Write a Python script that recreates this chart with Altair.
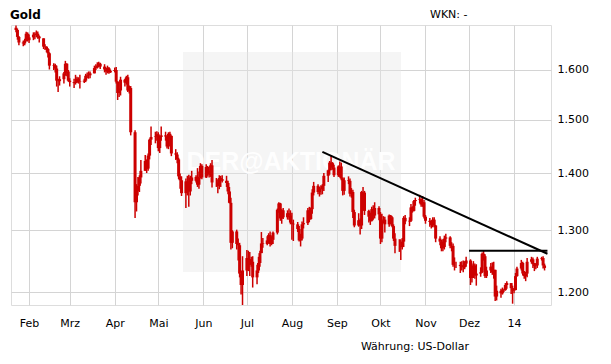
import altair as alt
import pandas as pd

# ---- daily OHLC values (USD per ounce) ----
first_open = 1690

jan13_close = [1685, 1670, 1658, 1656, 1662, 1677, 1663]
jan13_high = [1695, 1688, 1672, 1662, 1666, 1681, 1680]
jan13_low = [1680, 1664, 1652, 1650, 1652, 1660, 1660]

feb_close = [1669, 1675, 1674, 1677, 1671, 1667, 1649, 1649, 1644, 1635, 1609, 1610, 1603, 1578, 1577, 1581, 1593, 1613, 1597, 1578]
feb_high = [1675, 1680, 1680, 1684, 1682, 1673, 1667, 1654, 1650, 1646, 1637, 1614, 1613, 1609, 1582, 1587, 1596, 1619, 1614, 1600]
feb_low = [1657, 1663, 1665, 1669, 1666, 1658, 1644, 1642, 1637, 1626, 1601, 1600, 1595, 1566, 1555, 1568, 1572, 1588, 1587, 1576]

mar_close = [1575, 1573, 1575, 1582, 1577, 1576, 1578, 1588, 1589, 1589, 1593, 1604, 1606, 1609, 1613, 1607, 1601, 1597, 1604, 1595, 1598]
mar_high = [1583, 1582, 1590, 1586, 1585, 1590, 1582, 1592, 1595, 1597, 1597, 1609, 1612, 1616, 1617, 1615, 1612, 1605, 1609, 1606, 1601]
mar_low = [1566, 1563, 1570, 1573, 1572, 1562, 1573, 1575, 1583, 1582, 1583, 1594, 1600, 1603, 1605, 1602, 1595, 1590, 1593, 1592, 1594]

apr_close = [1600, 1576, 1553, 1558, 1580, 1574, 1585, 1558, 1563, 1476, 1348, 1368, 1377, 1392, 1404, 1422, 1408, 1432, 1462, 1467, 1468, 1472]
apr_high = [1605, 1606, 1577, 1562, 1586, 1582, 1588, 1590, 1568, 1567, 1480, 1380, 1393, 1396, 1424, 1433, 1425, 1436, 1464, 1487, 1477, 1478]
apr_low = [1595, 1572, 1539, 1545, 1548, 1566, 1570, 1555, 1552, 1470, 1321, 1332, 1360, 1366, 1381, 1405, 1400, 1404, 1425, 1452, 1455, 1460]

may_close = [1446, 1467, 1470, 1468, 1449, 1473, 1469, 1436, 1434, 1425, 1394, 1387, 1364, 1385, 1377, 1367, 1392, 1386, 1393, 1379, 1392, 1413, 1392]
may_high = [1476, 1470, 1487, 1477, 1470, 1476, 1477, 1470, 1444, 1438, 1428, 1399, 1394, 1390, 1395, 1397, 1395, 1404, 1396, 1409, 1403, 1418, 1416]
may_low = [1440, 1437, 1460, 1460, 1445, 1444, 1464, 1431, 1424, 1418, 1389, 1372, 1359, 1338, 1360, 1340, 1360, 1380, 1383, 1375, 1372, 1390, 1389]

jun_close = [1411, 1398, 1397, 1414, 1383, 1383, 1377, 1391, 1389, 1386, 1382, 1367, 1347, 1279, 1298, 1277, 1275, 1229, 1211, 1234]
jun_high = [1416, 1413, 1404, 1418, 1424, 1391, 1389, 1396, 1395, 1396, 1395, 1386, 1375, 1356, 1300, 1301, 1286, 1279, 1232, 1257]
jun_low = [1391, 1395, 1392, 1393, 1374, 1375, 1364, 1371, 1375, 1383, 1375, 1362, 1346, 1268, 1270, 1268, 1250, 1223, 1196, 1180]

jul_close = [1254, 1243, 1252, 1248, 1223, 1234, 1246, 1262, 1278, 1277, 1283, 1292, 1277, 1284, 1296, 1335, 1346, 1320, 1334, 1322, 1329, 1325, 1313]
jul_high = [1267, 1266, 1264, 1256, 1257, 1243, 1256, 1266, 1297, 1287, 1290, 1295, 1298, 1290, 1298, 1337, 1348, 1347, 1336, 1338, 1334, 1337, 1334]
jul_low = [1225, 1233, 1225, 1240, 1207, 1212, 1230, 1240, 1262, 1271, 1275, 1278, 1273, 1275, 1277, 1293, 1330, 1316, 1311, 1319, 1318, 1318, 1310]

aug_close = [1311, 1310, 1302, 1283, 1286, 1310, 1312, 1334, 1319, 1336, 1365, 1377, 1366, 1372, 1371, 1377, 1395, 1405, 1419, 1418, 1410, 1396]
aug_high = [1330, 1318, 1314, 1307, 1294, 1315, 1322, 1338, 1340, 1339, 1371, 1384, 1380, 1375, 1378, 1380, 1400, 1406, 1422, 1433, 1420, 1415]
aug_low = [1284, 1282, 1297, 1281, 1273, 1283, 1303, 1309, 1314, 1318, 1328, 1360, 1362, 1358, 1361, 1362, 1368, 1384, 1397, 1405, 1406, 1393]

sep_close = [1412, 1412, 1390, 1368, 1387, 1386, 1363, 1366, 1331, 1308, 1317, 1308, 1366, 1365, 1333, 1323, 1316, 1336, 1325, 1338, 1327]
sep_high = [1414, 1421, 1419, 1392, 1392, 1394, 1390, 1373, 1370, 1335, 1329, 1320, 1368, 1375, 1368, 1335, 1330, 1340, 1343, 1348, 1341]
sep_low = [1393, 1392, 1387, 1360, 1361, 1380, 1358, 1356, 1321, 1305, 1306, 1293, 1302, 1356, 1326, 1313, 1309, 1315, 1318, 1320, 1317]

oct_close = [1286, 1316, 1318, 1310, 1325, 1322, 1307, 1286, 1274, 1274, 1272, 1281, 1321, 1315, 1316, 1339, 1333, 1350, 1352, 1353, 1344, 1348, 1323]
oct_high = [1331, 1328, 1324, 1323, 1327, 1326, 1324, 1310, 1295, 1285, 1285, 1287, 1324, 1326, 1322, 1345, 1341, 1352, 1356, 1361, 1355, 1359, 1352]
oct_low = [1277, 1280, 1312, 1296, 1306, 1310, 1305, 1282, 1262, 1264, 1251, 1268, 1272, 1310, 1307, 1314, 1330, 1332, 1342, 1346, 1340, 1340, 1320]

nov_close = [1316, 1314, 1309, 1318, 1308, 1286, 1281, 1270, 1272, 1286, 1288, 1274, 1274, 1243, 1243, 1243, 1241, 1242, 1239, 1245, 1250]
nov_high = [1326, 1321, 1317, 1322, 1322, 1309, 1290, 1284, 1285, 1291, 1294, 1290, 1280, 1278, 1255, 1248, 1248, 1249, 1250, 1249, 1256]
nov_low = [1311, 1306, 1303, 1305, 1305, 1280, 1275, 1265, 1265, 1268, 1280, 1270, 1265, 1240, 1234, 1238, 1230, 1234, 1231, 1236, 1240]

dec_close = [1222, 1235, 1242, 1226, 1229, 1231, 1261, 1257, 1225, 1234, 1240, 1231, 1235, 1193, 1202, 1198, 1203, 1203, 1211, 1214, 1206, 1202]
dec_high = [1252, 1245, 1249, 1245, 1244, 1239, 1263, 1267, 1260, 1240, 1246, 1247, 1248, 1222, 1210, 1205, 1207, 1205, 1214, 1217, 1214, 1210]
dec_low = [1211, 1215, 1222, 1221, 1210, 1224, 1230, 1250, 1222, 1222, 1230, 1227, 1221, 1186, 1187, 1191, 1196, 1200, 1202, 1205, 1197, 1182]

jan14_close = [1203, 1225, 1237, 1246, 1229, 1225, 1229, 1248, 1252, 1244, 1241, 1242, 1253, 1254, 1242, 1238]
jan14_high = [1206, 1230, 1240, 1251, 1248, 1233, 1232, 1254, 1256, 1255, 1246, 1246, 1256, 1256, 1257, 1245]
jan14_low = [1198, 1203, 1224, 1234, 1226, 1221, 1217, 1223, 1245, 1238, 1233, 1236, 1238, 1250, 1237, 1234]

periods = [
    ("2013-01-23", "2013-01-31", jan13_close, jan13_high, jan13_low),
    ("2013-02-01", "2013-02-28", feb_close, feb_high, feb_low),
    ("2013-03-01", "2013-03-31", mar_close, mar_high, mar_low),
    ("2013-04-01", "2013-04-30", apr_close, apr_high, apr_low),
    ("2013-05-01", "2013-05-31", may_close, may_high, may_low),
    ("2013-06-01", "2013-06-30", jun_close, jun_high, jun_low),
    ("2013-07-01", "2013-07-31", jul_close, jul_high, jul_low),
    ("2013-08-01", "2013-08-31", aug_close, aug_high, aug_low),
    ("2013-09-01", "2013-09-30", sep_close, sep_high, sep_low),
    ("2013-10-01", "2013-10-31", oct_close, oct_high, oct_low),
    ("2013-11-01", "2013-11-30", nov_close, nov_high, nov_low),
    ("2013-12-01", "2013-12-31", dec_close, dec_high, dec_low),
    ("2014-01-01", "2014-01-22", jan14_close, jan14_high, jan14_low),
]

# trend lines drawn on the chart
trend_dates = ["2013-08-22", "2014-01-24", "2013-12-01", "2014-01-24"]
trend_prices = [1439, 1261, 1266, 1266]
trend_ids = ["a", "a", "b", "b"]

month_names = ["Jan", "Feb", "Mrz", "Apr", "Mai", "Jun", "Jul", "Aug", "Sep", "Okt", "Nov", "Dez"]
y_ticks = [1200, 1300, 1400, 1500, 1600]

rows = []
for start, end, c, h, l in periods:
    days = pd.bdate_range(start, end)
    for d, cc, hh, ll in zip(days, c, h, l):
        rows.append({"date": d.strftime("%Y-%m-%d"), "close": cc, "high": hh, "low": ll})
df = pd.DataFrame(rows)
df["open"] = df["close"].shift(1).fillna(first_open)
df["high"] = df[["high", "open", "close"]].max(axis=1)
df["low"] = df[["low", "open", "close"]].min(axis=1)

trend = pd.DataFrame({"date": trend_dates, "price": trend_prices, "id": trend_ids})

RED = "#cc0000"
FONT = "DejaVu Sans"

x_scale = alt.Scale(type="utc", domain=[alt.DateTime(year=2013, month=1, date=23, utc=True),
                                        alt.DateTime(year=2014, month=1, date=23, utc=True)])
y_scale = alt.Scale(type="log", domain=[1180, 1696], nice=False, zero=False)

tick_dates = [alt.DateTime(year=2013, month=m, date=1, utc=True) for m in range(2, 13)] + \
             [alt.DateTime(year=2014, month=1, date=1, utc=True)]
names_js = "[" + ",".join("'" + n + "'" for n in month_names) + "]"
x_label_expr = "utcmonth(datum.value) == 0 ? utcFormat(datum.value, '%y') : " + names_js + "[utcmonth(datum.value)]"

x_axis = alt.Axis(values=tick_dates, labelExpr=x_label_expr, title=None, tickSize=0, labelPadding=12,
                  domain=False, grid=True, gridColor="#d4d4d4", labelFont=FONT, labelFontSize=11,
                  labelColor="#000000")
y_axis = alt.Axis(orient="right", values=y_ticks, labelExpr="replace(format(datum.value, ','), ',', '.')",
                  title=None, tickSize=0, labelPadding=6, domain=False, grid=True, gridColor="#d4d4d4",
                  labelFont=FONT, labelFontSize=11, labelColor="#000000")

one = pd.DataFrame({"k": [0]})

box = alt.Chart(one).mark_rect(fill="#e6e6e6", opacity=0.4).encode(
    x=alt.value(172), x2=alt.value(390), y=alt.value(27), y2=alt.value(247))

watermark = alt.Chart(one).mark_text(text="DER@AKTIONÄR", font="Liberation Sans", fontWeight="bold",
                                     fontSize=25, color="#ffffff", opacity=0.95, baseline="middle",
                                     align="center").encode(x=alt.value(280), y=alt.value(137))

wicks = alt.Chart(df).mark_rule(color=RED, strokeWidth=1.5).encode(
    x=alt.X("date:T", scale=x_scale, axis=x_axis),
    y=alt.Y("low:Q", scale=y_scale, axis=y_axis),
    y2="high:Q")

bodies = alt.Chart(df).mark_bar(color=RED, size=3).encode(
    x=alt.X("date:T", scale=x_scale),
    y=alt.Y("open:Q", scale=y_scale),
    y2="close:Q")

lines = alt.Chart(trend).mark_line(color="#000000", strokeWidth=2).encode(
    x=alt.X("date:T", scale=x_scale),
    y=alt.Y("price:Q", scale=y_scale),
    detail="id:N")

title = alt.Chart(one).mark_text(text="Gold", font=FONT, fontWeight="bold", fontSize=12, color="#000000",
                                 align="left", baseline="middle").encode(x=alt.value(-1), y=alt.value(-10))
wkn = alt.Chart(one).mark_text(text="WKN: -", font=FONT, fontSize=11, color="#000000",
                               align="left", baseline="middle").encode(x=alt.value(419), y=alt.value(-10))
currency = alt.Chart(one).mark_text(text="Währung: US-Dollar", font=FONT, fontSize=11, color="#000000",
                                    align="right", baseline="middle").encode(x=alt.value(458), y=alt.value(322))

chart = alt.layer(box, watermark, wicks, bodies, lines, title, wkn, currency).properties(
    width=540, height=280, autosize="none",
    padding={"left": 3, "top": 17, "right": 52, "bottom": 50},
).configure_view(stroke="#cccccc", strokeWidth=1).configure(background="#ffffff")

chart.save("out.html", embed_options={"renderer": "svg", "actions": False})
